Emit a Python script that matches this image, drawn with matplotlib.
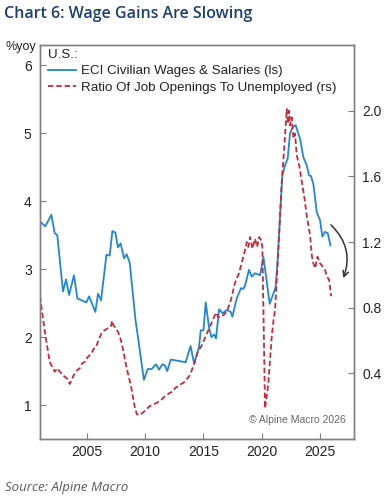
import matplotlib
matplotlib.use("Agg")
import matplotlib.pyplot as plt

# ECI civilian wages & salaries, %yoy (left scale)
eci_x = [2001.0, 2001.45, 2001.97, 2002.26, 2002.48, 2002.97, 2003.23, 2003.49, 2003.91, 2004.2,
         2004.97, 2005.2, 2005.74, 2005.97, 2006.23, 2006.69, 2006.97, 2007.2, 2007.45, 2007.68,
         2007.9, 2008.2, 2008.43, 2008.69, 2009.17, 2009.9, 2010.23, 2010.57, 2010.94, 2011.2,
         2011.48, 2011.71, 2011.9, 2012.2, 2013.48, 2013.9, 2014.2, 2014.62, 2014.77, 2015.0,
         2015.2, 2015.48, 2015.68, 2015.91, 2016.08, 2016.34, 2016.65, 2016.99, 2017.34, 2017.48,
         2017.85, 2018.22, 2018.42, 2018.57, 2018.9, 2019.14, 2019.42, 2019.85, 2020.14, 2020.68,
         2021.18, 2021.34, 2021.76, 2021.99, 2022.22, 2022.42, 2022.65, 2022.9, 2023.08, 2023.28,
         2023.56, 2023.85, 2024.05, 2024.22, 2024.42, 2024.71, 2024.99, 2025.19, 2025.42, 2025.65,
         2025.88]
eci_y = [3.70, 3.63, 3.80, 3.53, 3.50, 2.67, 2.85, 2.62, 2.91, 2.57,
         2.51, 2.60, 2.37, 2.64, 2.54, 3.21, 3.20, 3.56, 3.54, 3.32,
         3.38, 3.16, 3.22, 3.09, 2.27, 1.37, 1.53, 1.53, 1.60, 1.52,
         1.60, 1.58, 1.50, 1.67, 1.63, 1.87, 1.61, 1.85, 2.10, 2.10,
         2.51, 2.14, 2.00, 2.04, 1.98, 2.41, 2.35, 2.40, 2.37, 2.30,
         2.57, 2.72, 2.71, 2.76, 2.99, 2.89, 2.94, 2.91, 3.18, 2.49,
         2.73, 3.08, 4.38, 4.53, 4.63, 5.00, 5.09, 5.12, 5.02, 4.92,
         4.65, 4.53, 4.38, 4.37, 4.25, 3.84, 3.72, 3.48, 3.55, 3.53,
         3.35]

# ratio of job openings to unemployed (right scale)
jo_x = [2001.0, 2001.4, 2001.83, 2002.26, 2002.5, 2002.69, 2003.1, 2003.3, 2003.55, 2003.9,
        2004.2, 2004.4, 2004.6, 2004.83, 2005.1, 2005.4, 2005.6, 2005.8, 2006.0, 2006.25,
        2006.5, 2006.7, 2006.97, 2007.1, 2007.17, 2007.3, 2007.45, 2007.7, 2007.9, 2008.1,
        2008.4, 2008.6, 2008.8, 2009.1, 2009.3, 2009.54, 2009.8, 2010.1, 2010.4, 2010.7,
        2011.0, 2011.4, 2011.71, 2012.1, 2012.4, 2012.57, 2013.0, 2013.43, 2013.85, 2014.22,
        2014.51, 2014.86, 2015.22, 2015.65, 2016.08, 2016.3, 2016.57, 2017.0, 2017.37, 2017.7,
        2018.05, 2018.42, 2018.6, 2018.71, 2018.85, 2019.0, 2019.2, 2019.42, 2019.6, 2019.77,
        2019.95, 2020.05, 2020.28, 2020.4, 2020.56, 2020.85, 2021.0, 2021.14, 2021.42, 2021.71,
        2021.94, 2022.14, 2022.25, 2022.34, 2022.42, 2022.57, 2022.71, 2022.85, 2022.99, 2023.22,
        2023.42, 2023.65, 2023.85, 2024.14, 2024.28, 2024.42, 2024.57, 2024.77, 2024.99, 2025.22,
        2025.42, 2025.57, 2025.77, 2025.94]
jo_y = [0.87, 0.66, 0.47, 0.41, 0.43, 0.41, 0.38, 0.37, 0.335, 0.39,
        0.42, 0.43, 0.46, 0.47, 0.50, 0.52, 0.55, 0.56, 0.60, 0.64,
        0.66, 0.67, 0.68, 0.69, 0.72, 0.69, 0.68, 0.65, 0.61, 0.55,
        0.44, 0.38, 0.32, 0.20, 0.15, 0.146, 0.16, 0.18, 0.20, 0.21,
        0.22, 0.24, 0.26, 0.28, 0.29, 0.31, 0.33, 0.35, 0.39, 0.46,
        0.53, 0.57, 0.63, 0.70, 0.77, 0.74, 0.745, 0.775, 0.85, 0.95,
        1.01, 1.11, 1.16, 1.20, 1.17, 1.23, 1.16, 1.22, 1.17, 1.23,
        1.21, 1.17, 0.187, 0.25, 0.34, 0.62, 0.72, 0.79, 1.15, 1.57,
        1.79, 2.01, 1.92, 2.00, 1.91, 1.96, 1.83, 1.86, 1.73, 1.66,
        1.57, 1.47, 1.36, 1.24, 1.12, 1.07, 1.04, 1.11, 1.07, 1.05,
        1.03, 0.99, 0.97, 0.87]

left_ticks = [1, 2, 3, 4, 5, 6]
right_ticks = [0.4, 0.8, 1.2, 1.6, 2.0]
year_ticks = [2005, 2010, 2015, 2020, 2025]

plt.rcParams['font.family'] = ['Liberation Sans', 'DejaVu Sans']

fig = plt.figure(figsize=(3.85, 5.0), dpi=100)
ax = fig.add_axes([40/385, 1-439/500, 314/385, 394/500])
ax2 = ax.twinx()

l1, = ax.plot(eci_x, eci_y, color='#1f87d6', lw=1.3, label='ECI Civilian Wages & Salaries (ls)', zorder=3)
l2, = ax2.plot(jo_x, jo_y, color='#c9283a', lw=1.3, ls=(0, (3, 1.6)),
               label='Ratio Of Job Openings To Unemployed (rs)')

ax.set_xlim(2001, 2027.9)
ax.set_ylim(0.5, 6.3)
ax2.set_ylim(0.0, 2.4)
ax.set_xticks(year_ticks)
ax.set_yticks(left_ticks)
ax2.set_yticks(right_ticks)
ax2.set_yticklabels([f'{v:.1f}' for v in right_ticks])

for a in (ax, ax2):
    for s in a.spines.values():
        s.set_color('#7f7f7f')
        s.set_linewidth(1.0)
    a.tick_params(direction='in', length=4, width=0.8, color='#7f7f7f',
                  labelsize=10, labelcolor='#222222', pad=4)
ax.tick_params(axis='y', pad=6)
ax2.tick_params(axis='y', pad=6)

leg = ax.legend(handles=[l1, l2], title='U.S.:', loc='upper left', bbox_to_anchor=(0.0, 1.01),
                frameon=False, fontsize=9.6, title_fontsize=9.6, handlelength=2.1,
                handletextpad=0.35, labelspacing=0.3, borderaxespad=0.2,
                alignment='left')
leg.get_title().set_color('#222222')
for t in leg.get_texts():
    t.set_color('#222222')

# arrow showing the slowdown
ax.annotate('', xy=(2026.9, 2.83), xytext=(2025.75, 3.68),
            arrowprops=dict(arrowstyle='->', color='#333333', lw=1.1,
                            connectionstyle='arc3,rad=-0.35'))

ax.text(0.975, 0.035, '\u00a9 Alpine Macro 2026', transform=ax.transAxes, ha='right',
        va='bottom', fontsize=7.5, color='#666666')

fig.text(5/385, 1-47/500, '%yoy', fontsize=9, color='#222222', va='center', ha='left')
fig.text(4/385, 1-14/500, 'Chart 6: Wage Gains Are Slowing', fontsize=11.5, fontweight='semibold',
         family='Open Sans', color='#1c3f72', va='center', ha='left')
fig.text(5/385, 1-487/500, 'Source: Alpine Macro', fontsize=9.5, style='italic',
         family='Open Sans', color='#595959', va='center', ha='left')

fig.savefig('out.png', dpi=100)
